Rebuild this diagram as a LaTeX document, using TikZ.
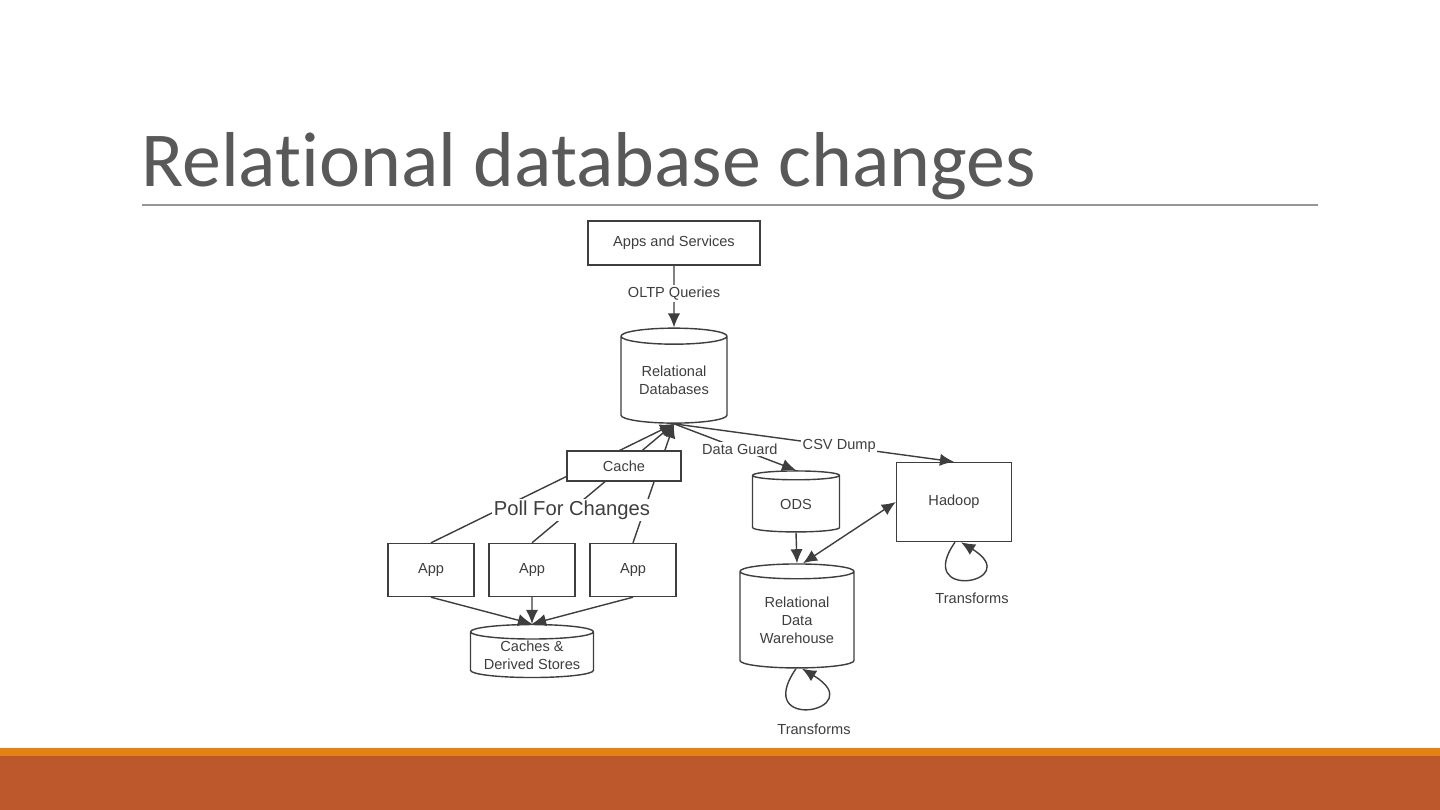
\documentclass[tikz,border=0pt]{standalone}
\usepackage{fontspec}
\setmainfont{Liberation Sans}
\newfontfamily\titlefont[Ligatures=NoCommon]{Carlito}
\usetikzlibrary{arrows.meta,positioning,calc,shapes.geometric}
\definecolor{titlegray}{RGB}{89,89,89}
\definecolor{inkgray}{RGB}{62,62,62}
\definecolor{rulegray}{RGB}{150,150,150}
\definecolor{barorange}{RGB}{228,131,18}
\definecolor{barrust}{RGB}{189,88,44}
\newcommand{\diafont}{\fontsize{8.3}{10.2}\selectfont}
\tikzset{
  box/.style={draw=inkgray,line width=0.8pt,fill=white,text=inkgray,font=\diafont,inner sep=0pt},
  dbase/.style={cylinder,shape border rotate=90,draw=inkgray,line width=0.8pt,fill=white,
    text=inkgray,font=\diafont,align=center,inner sep=0pt},
  lbl/.style={text=inkgray,font=\diafont,fill=white,inner sep=1pt},
  arr/.style={draw=inkgray,line width=0.8pt,-{Latex[length=8pt,width=7pt]}},
  dblarr/.style={draw=inkgray,line width=0.8pt,{Latex[length=8pt,width=7pt]}-{Latex[length=8pt,width=7pt]}},
}

\begin{document}
\begin{tikzpicture}[x=0.02cm,y=-0.02cm]
\useasboundingbox (0,0) rectangle (1440,810);
% slide frame
\fill[barorange] (0,748) rectangle (1440,756);
\fill[barrust] (0,756) rectangle (1440,810);
\node[anchor=base west,inner sep=0pt,text=titlegray,font=\titlefont\fontsize{44.3}{50}\selectfont] (title) at (141,187) {Relational database changes};
\draw[rulegray,line width=0.6pt] (142,205) -- (1318,205);

% stores and services
\node[box,minimum width=3.44cm,minimum height=0.88cm] (apps) at (674,243) {Apps and Services};
\node[dbase,minimum width=2.12cm,minimum height=1.9cm,aspect=0.23] (rdb) at (674,380) {Relational\\Databases};
\node[box,minimum width=1.72cm,minimum height=1.06cm] (app1) at (431,570) {App};
\node[box,minimum width=1.72cm,minimum height=1.06cm] (app2) at (532,570) {App};
\node[box,minimum width=1.72cm,minimum height=1.06cm] (app3) at (633,570) {App};
\node[dbase,minimum width=2.46cm,minimum height=1.06cm,aspect=0.15] (derived) at (532,655) {Caches \&\\Derived Stores};
\node[dbase,minimum width=1.74cm,minimum height=1.22cm,aspect=0.28] (ods) at (796,504) {ODS};
\node[dbase,minimum width=2.28cm,minimum height=2.08cm,aspect=0.2] (rdw) at (797,620) {Relational\\Data\\Warehouse};
\node[box,minimum width=2.3cm,minimum height=1.58cm] (hadoop) at (954,502) {Hadoop};

% polling apps
\draw[arr] (app1.north) -- (rdb.south);
\draw[arr] (app2.north) -- (rdb.south);
\draw[arr] (app3.north) -- (rdb.south);
\node[box,minimum width=2.28cm,minimum height=0.6cm] (cache) at (624,466) {Cache};
\node[lbl,font=\fontsize{11.5}{13}\selectfont] (poll) at (572,510) {Poll For Changes};

\draw[arr] (app1.south) -- (derived.north);
\draw[arr] (app2.south) -- (derived.north);
\draw[arr] (app3.south) -- (derived.north);

% flows out of the databases
\draw[arr] (apps.south) -- node[lbl,pos=0.45] {OLTP Queries} (rdb.north);
\draw[arr] (rdb.south) -- node[lbl,pos=0.54] {Data Guard} (ods.north);
\draw[arr] (rdb.south) -- node[lbl,pos=0.59] {CSV Dump} (hadoop.north);
\draw[arr] (ods.south) -- (rdw.north);
\draw[dblarr] ([xshift=0.12cm]rdw.north) -- (hadoop.west);

% transforms
\draw[arr] ([xshift=-0.02cm]rdw.south) .. controls +(-45,65) and +(70,42) .. ([xshift=0.1cm]rdw.south);
\node[lbl] (rdwtf) at (814,729) {Transforms};
\draw[arr] ([xshift=0.02cm]hadoop.south) .. controls +(-42,60) and +(65,40) .. ([xshift=0.14cm]hadoop.south);
\node[lbl] (hdtf) at (972,598) {Transforms};
\end{tikzpicture}
\end{document}
